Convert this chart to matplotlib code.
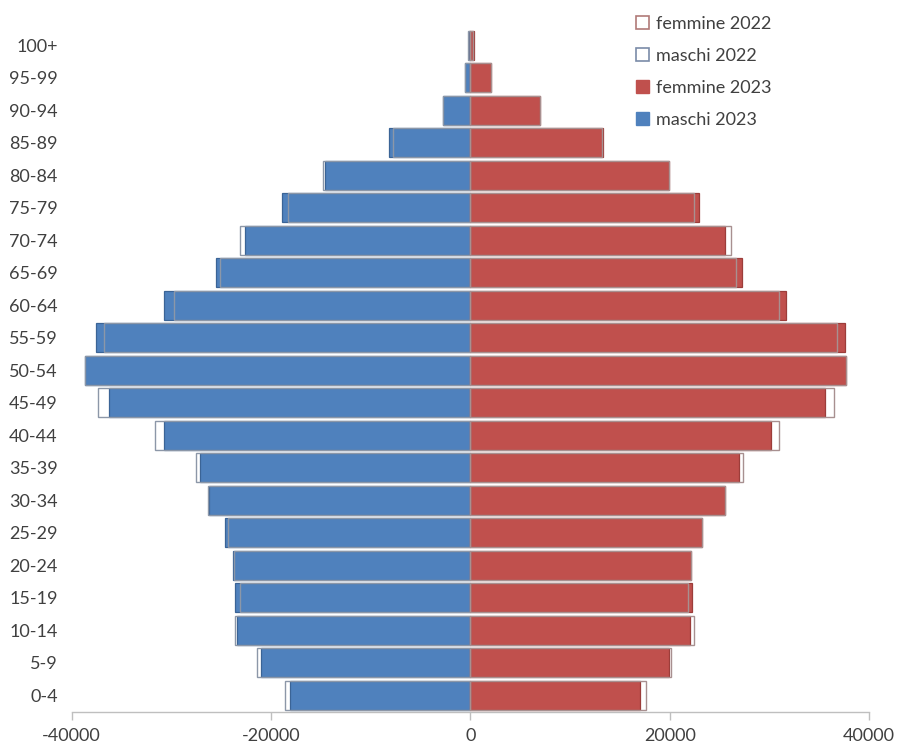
#!/usr/bin/env python3
"""
Piramide per eta - popolazione residente 2023 vs 2022.
"""

import matplotlib
matplotlib.use('Agg')
import matplotlib.pyplot as plt
import numpy as np
from matplotlib.patches import Patch

plt.rcParams['font.family'] = ['Lato', 'DejaVu Sans']
plt.rcParams['axes.unicode_minus'] = False

# Age classes, bottom to top
AGES = ['0-4', '5-9', '10-14', '15-19', '20-24', '25-29', '30-34', '35-39',
        '40-44', '45-49', '50-54', '55-59', '60-64', '65-69', '70-74',
        '75-79', '80-84', '85-89', '90-94', '95-99', '100+']

maschi_2023 = [18060, 20970, 23410, 23580, 23850, 24590, 26260, 27090,
               30710, 36290, 38700, 37560, 30710, 25490, 22650, 18900,
               14550, 8150, 2740, 500, 100]
maschi_2022 = [18560, 21410, 23650, 23150, 23700, 24300, 26300, 27500,
               31610, 37400, 38650, 36800, 29700, 25090, 23080, 18330,
               14780, 7750, 2700, 520, 200]
femmine_2023 = [16990, 19900, 22010, 22240, 22140, 23250, 25520, 26990,
                30170, 35550, 37700, 37630, 31680, 27260, 25590, 22910,
                19940, 13280, 7020, 2080, 330]
femmine_2022 = [17630, 20170, 22410, 21810, 22100, 23200, 25550, 27360,
                30940, 36460, 37650, 36800, 30940, 26660, 26160, 22410,
                19900, 13200, 7000, 2050, 300]

XTICKS = [-40000, -20000, 0, 20000, 40000]

BLUE = '#4F81BD'
RED = '#C0504D'
BLUE_EDGE = '#3B6496'
RED_EDGE = '#9C3D3A'
TEXT = '#404040'


def plot_pyramid():
    fig = plt.figure(figsize=(8.98, 7.47), dpi=100)
    ax = fig.add_axes([0.0798, 0.0473, 0.888, 0.914])

    y = np.arange(len(AGES))
    h = 0.89

    # 2023 bars (filled)
    ax.barh(y, -np.array(maschi_2023), height=h, color=BLUE,
            edgecolor=BLUE_EDGE, linewidth=0.9, zorder=2)
    ax.barh(y, femmine_2023, height=h, color=RED,
            edgecolor=RED_EDGE, linewidth=0.9, zorder=2)

    # 2022 bars (outline only, on top)
    ax.barh(y, -np.array(maschi_2022), height=h, facecolor='none',
            edgecolor='#8C97A8', linewidth=1.0, zorder=3)
    ax.barh(y, femmine_2022, height=h, facecolor='none',
            edgecolor='#A89090', linewidth=1.0, zorder=3)

    ax.set_xlim(-40000, 40000)
    ax.set_ylim(-0.5, len(AGES) - 0.5)
    ax.set_xticks(XTICKS)
    ax.set_xticklabels([str(v) for v in XTICKS])
    ax.set_yticks(y)
    ax.set_yticklabels(AGES)

    for s in ['top', 'right', 'left']:
        ax.spines[s].set_visible(False)
    ax.spines['bottom'].set_color('#BFBFBF')
    ax.spines['bottom'].set_linewidth(1.0)
    ax.tick_params(axis='x', colors='#BFBFBF', length=6, width=1.0,
                   labelcolor=TEXT, labelsize=13, pad=6)
    ax.tick_params(axis='y', length=0, labelcolor=TEXT, labelsize=13, pad=10)

    handles = [
        Patch(facecolor='white', edgecolor='#B07A78', linewidth=1.2),
        Patch(facecolor='white', edgecolor='#7A8BA8', linewidth=1.2),
        Patch(facecolor=RED, edgecolor=RED),
        Patch(facecolor=BLUE, edgecolor=BLUE),
    ]
    labels = ['femmine 2022', 'maschi 2022', 'femmine 2023', 'maschi 2023']
    leg = fig.legend(handles, labels, loc='upper left',
                     bbox_to_anchor=(636 / 898, 1 - 16 / 747),
                     frameon=False, fontsize=13, handlelength=0.7,
                     handleheight=0.7, handletextpad=0.4, labelspacing=0.88,
                     borderpad=0, borderaxespad=0)
    for t in leg.get_texts():
        t.set_color(TEXT)

    plt.savefig('out.png', dpi=100)
    plt.close()


def main():
    plot_pyramid()


if __name__ == '__main__':
    main()
